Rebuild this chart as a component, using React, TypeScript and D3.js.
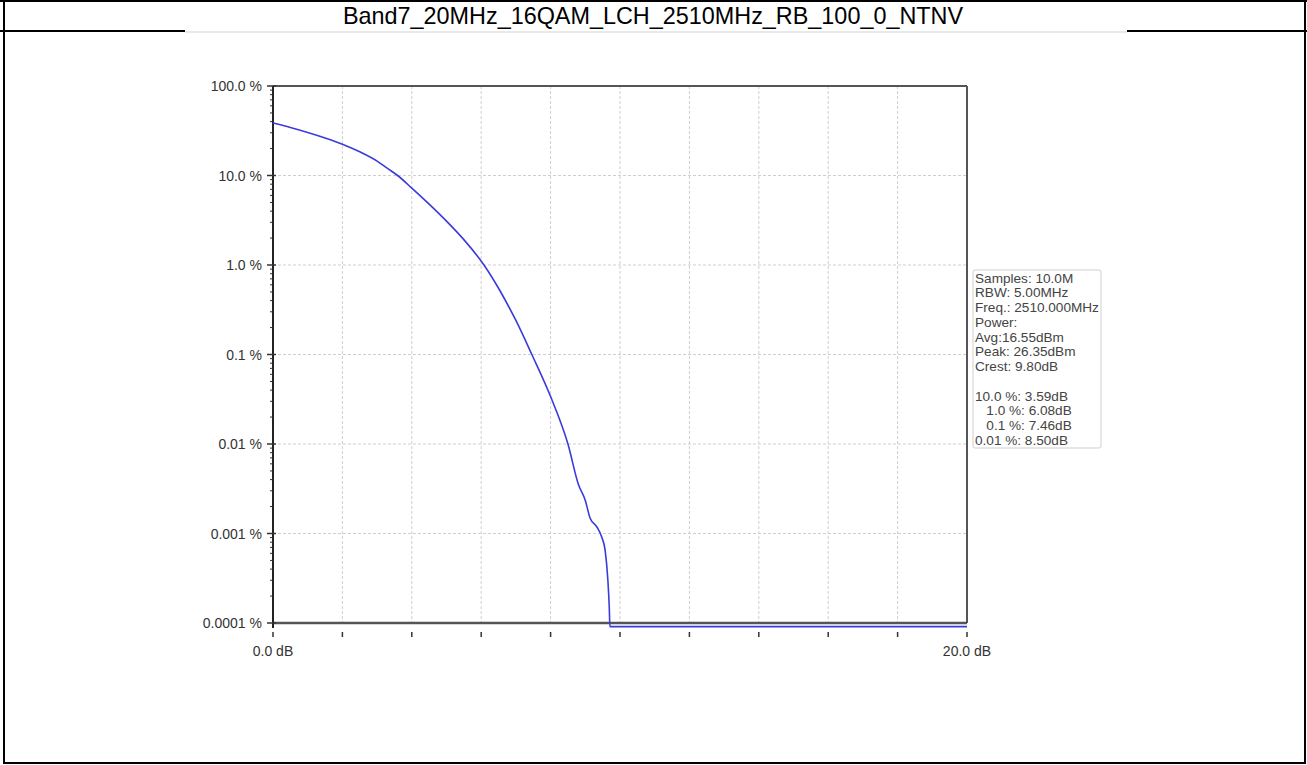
import React from "react";
import * as d3 from "d3";

const titleText = "Band7_20MHz_16QAM_LCH_2510MHz_RB_100_0_NTNV";
const dbValues = [0, 0.5, 1.0, 1.5, 2.0, 2.5, 3.0, 3.3, 3.59, 4.0, 4.5, 5.0, 5.5, 6.08, 6.5, 7.0, 7.46, 8.0, 8.5, 8.8, 9.0, 9.14, 9.33, 9.47, 9.57, 9.65, 9.69, 9.71, 20];
const ccdfPercent = [38.6, 34.4, 30.3, 26.3, 22.4, 18.4, 14.5, 12.0, 10.0, 7.24, 4.79, 3.09, 1.92, 1.0, 0.55, 0.24, 0.1, 0.0339, 0.01, 0.00355, 0.00234, 0.00148, 0.00119, 0.00092, 0.000655, 0.000302, 0.000152, 0.000091, 0.000091];
const yTickValues = [100, 10, 1, 0.1, 0.01, 0.001, 0.0001];
const yTickLabels = ["100.0 %", "10.0 %", "1.0 %", "0.1 %", "0.01 %", "0.001 %", "0.0001 %"];
const xGridValues = [0, 2, 4, 6, 8, 10, 12, 14, 16, 18, 20];
const xTickLabels = [{ v: 0, t: "0.0 dB" }, { v: 20, t: "20.0 dB" }];
const legendLines = [
  "Samples: 10.0M",
  "RBW: 5.00MHz",
  "Freq.: 2510.000MHz",
  "Power:",
  "Avg:16.55dBm",
  "Peak: 26.35dBm",
  "Crest: 9.80dB",
  "",
  "10.0 %: 3.59dB",
  "   1.0 %: 6.08dB",
  "   0.1 %: 7.46dB",
  "0.01 %: 8.50dB",
];

const W = 1307;
const H = 765;
const plot = { left: 273, right: 967, top: 86, bottom: 623 };

export default function App() {
  const x = d3.scaleLinear().domain([0, 20]).range([plot.left, plot.right]);
  const y = d3.scaleLog().domain([0.0001, 100]).range([plot.bottom, plot.top]);
  const pts: [number, number][] = dbValues.map((d, i) => [d, ccdfPercent[i]]);
  const line = d3
    .line<[number, number]>()
    .x((d) => x(d[0]))
    .y((d) => y(d[1]))
    .curve(d3.curveMonotoneX);

  const minor: number[] = [];
  for (let k = -4; k < 2; k++) {
    for (let m = 2; m <= 9; m++) minor.push(m * Math.pow(10, k));
  }

  const font = "Arial, 'Liberation Sans', sans-serif";

  return (
    <svg
      width={W}
      height={H}
      style={{ position: "absolute", left: 0, top: 0, background: "#fff" }}
      fontFamily={font}
    >
      <rect x={0} y={0} width={W} height={H} fill="#fff" />
      {/* outer table borders */}
      <line x1={0} x2={W} y1={1} y2={1} stroke="#000" strokeWidth={2} />
      <line x1={4} x2={4} y1={0} y2={763} stroke="#000" strokeWidth={2} />
      <line x1={1305} x2={1305} y1={0} y2={763} stroke="#000" strokeWidth={2} />
      <line x1={3} x2={1306} y1={763} y2={763} stroke="#000" strokeWidth={2} />
      <line x1={0} x2={185} y1={31} y2={31} stroke="#000" strokeWidth={2} />
      <line x1={1127} x2={W} y1={31} y2={31} stroke="#000" strokeWidth={2} />
      <line x1={185} x2={1127} y1={32} y2={32} stroke="#e2e2e2" strokeWidth={1.5} />
      <text x={653} y={16} textAnchor="middle" dominantBaseline="central" fontSize={23.4} fill="#000">
        {titleText}
      </text>

      {/* grid */}
      {xGridValues
        .filter((v) => v > 0 && v < 20)
        .map((v) => (
          <line key={"gx" + v} x1={x(v)} x2={x(v)} y1={plot.top} y2={plot.bottom} stroke="#cfcfcf" strokeWidth={1} strokeDasharray="3,2" />
        ))}
      {yTickValues
        .filter((v) => v < 100 && v > 0.0001)
        .map((v) => (
          <line key={"gy" + v} x1={plot.left} x2={plot.right} y1={y(v)} y2={y(v)} stroke="#cfcfcf" strokeWidth={1} strokeDasharray="3,2" />
        ))}

      {/* frame */}
      <line x1={plot.left} x2={plot.right} y1={plot.top} y2={plot.top} stroke="#555" strokeWidth={2} />
      <line x1={plot.right} x2={plot.right} y1={plot.top} y2={plot.bottom} stroke="#555" strokeWidth={2} />
      <line x1={plot.left} x2={plot.right} y1={plot.bottom} y2={plot.bottom} stroke="#555" strokeWidth={2.5} />
      <line x1={plot.left} x2={plot.left} y1={plot.top} y2={plot.bottom + 5} stroke="#222" strokeWidth={2} />

      {/* y ticks */}
      {minor.map((v, i) => (
        <line key={"mn" + i} x1={plot.left - 3} x2={plot.left} y1={y(v)} y2={y(v)} stroke="#333" strokeWidth={1} />
      ))}
      {yTickValues.map((v, i) => (
        <g key={"yt" + v}>
          <line x1={plot.left - 6} x2={plot.left + 3} y1={y(v)} y2={y(v)} stroke="#333" strokeWidth={1.5} />
          <text x={262} y={y(v)} textAnchor="end" dominantBaseline="central" fontSize={14} fill="#333">
            {yTickLabels[i]}
          </text>
        </g>
      ))}

      {/* x ticks */}
      {xGridValues.map((v) => (
        <line key={"xt" + v} x1={x(v)} x2={x(v)} y1={632} y2={637} stroke="#333" strokeWidth={1.5} />
      ))}
      {xTickLabels.map((d) => (
        <text key={d.t} x={x(d.v)} y={651} textAnchor="middle" dominantBaseline="central" fontSize={14} fill="#333">
          {d.t}
        </text>
      ))}

      {/* curve */}
      <path d={line(pts) || ""} fill="none" stroke="#3b3bdb" strokeWidth={1.6} />

      {/* legend */}
      <rect x={973} y={270} width={128} height={178} fill="#fff" stroke="#cfcfcf" strokeWidth={1} rx={2} />
      {legendLines.map((t, i) => (
        <text
          key={"lg" + i}
          x={975}
          y={278 + i * 14.75}
          dominantBaseline="central"
          fontSize={13.6}
          fill="#444"
          style={{ whiteSpace: "pre" }}
        >
          {t}
        </text>
      ))}
    </svg>
  );
}
